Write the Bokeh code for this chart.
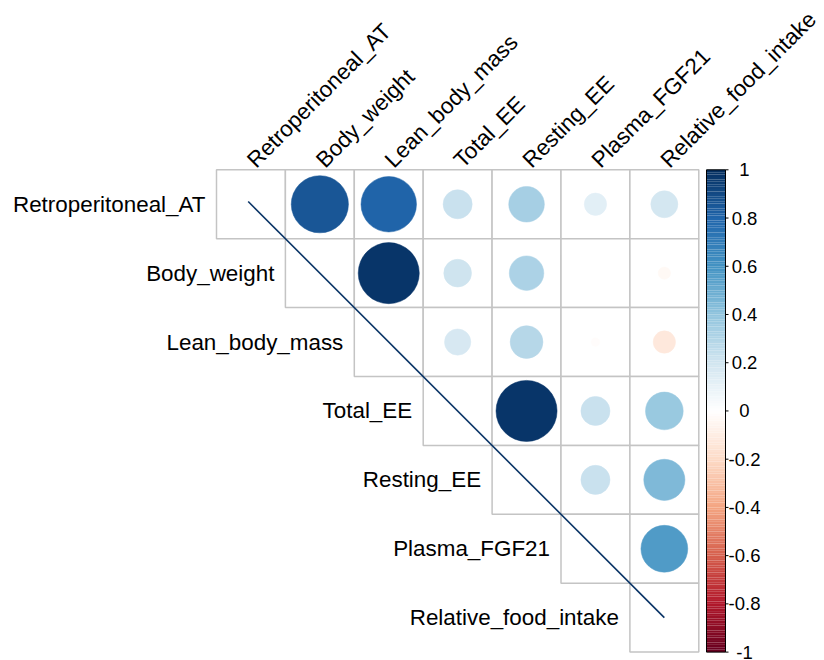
import numpy as np
from bokeh.plotting import figure
from bokeh.models import Range1d, ColumnDataSource, LinearColorMapper
from bokeh.transform import transform
from bokeh.core.properties import value
from bokeh.embed import file_html
from bokeh.resources import INLINE

# ---- data ----
variables = ["Retroperitoneal_AT", "Body_weight", "Lean_body_mass", "Total_EE",
             "Resting_EE", "Plasma_FGF21", "Relative_food_intake"]
# upper-triangle correlations, row by row (row i, columns i+1..7)
corr_rows = [
    [0.85, 0.80, 0.22, 0.33, 0.13, 0.19],
    [0.97, 0.20, 0.31, 0.00, -0.04],
    [0.18, 0.28, -0.02, -0.13],
    [0.97, 0.22, 0.37],
    [0.22, 0.44],
    [0.57],
]
cbar_ticks = [1, 0.8, 0.6, 0.4, 0.2, 0, -0.2, -0.4, -0.6, -0.8, -1]
cbar_labels = ["1", "0.8", "0.6", "0.4", "0.2", "0", "-0.2", "-0.4", "-0.6", "-0.8", "-1"]

# ---- palette (corrplot RdBu, 200 colours) ----
anchors = ["#67001F", "#B2182B", "#D6604D", "#F4A582", "#FDDBC7", "#FFFFFF",
           "#D1E5F0", "#92C5DE", "#4393C3", "#2166AC", "#053061"]
rgb = np.array([[int(h[i:i + 2], 16) for i in (1, 3, 5)] for h in anchors], float)
t = np.linspace(0, 1, len(anchors))
tt = np.linspace(0, 1, 200)
pal = []
for u in tt:
    c = [np.interp(u, t, rgb[:, k]) for k in range(3)]
    pal.append("#%02x%02x%02x" % tuple(int(round(v)) for v in c))
mapper = LinearColorMapper(palette=pal, low=-1, high=1)

# ---- layout ----
W, H = 824, 660
CELL = 68.9
L = 216.0
T = 169.3
FONT = value("Liberation Sans")

p = figure(width=W, height=H, output_backend="svg", toolbar_location=None,
           x_range=Range1d(0.5 - L / CELL, 0.5 + (W - L) / CELL),
           y_range=Range1d(0.5 + (H - T) / CELL, 0.5 - T / CELL),
           min_border=0)
p.axis.visible = False
p.grid.visible = False
p.outline_line_color = None
p.background_fill_color = "white"

n = len(variables)
# grid cells
cx, cy = [], []
for i in range(1, n + 1):
    for j in range(i, n + 1):
        cx.append(j)
        cy.append(i)
p.rect(x=cx, y=cy, width=1, height=1, fill_color="white",
       line_color="#C4C4C4", line_width=1.5)

# circles
xs, ys, rs, vs = [], [], [], []
for i, row in enumerate(corr_rows, start=1):
    for k, r in enumerate(row):
        j = i + 1 + k
        xs.append(j)
        ys.append(i)
        vs.append(r)
        rs.append(0.45 * np.sqrt(abs(r)))
src = ColumnDataSource(dict(x=xs, y=ys, r=rs, v=vs))
p.circle(x="x", y="y", radius="r", source=src,
         fill_color=transform("v", mapper), line_color=transform("v", mapper),
         line_width=0.5)

# diagonal line
p.line(x=[0.96, n], y=[0.96, n], line_color="#0A3466", line_width=1.6)

# row labels
p.text(x=[i - 0.5 - 0.16 for i in range(1, n + 1)], y=list(range(1, n + 1)),
       text=variables, text_align="right", text_baseline="middle",
       text_font=FONT, text_font_size="22.4px", text_color="black")
# column labels
p.text(x=list(range(1, n + 1)), y=[0.5 - 0.09] * n, text=variables,
       angle=np.pi / 4, text_align="left", text_baseline="alphabetic",
       text_font=FONT, text_font_size="22.4px", text_color="black")

# colour bar
cb_left = 7.5 + 7.7 / CELL
cb_right = 7.5 + 26.7 / CELL
def vy(v):
    return 4 - 3.5 * v
edges = np.linspace(-1, 1, len(pal) + 1)
p.quad(left=cb_left, right=cb_right,
       bottom=[vy(e) for e in edges[:-1]], top=[vy(e) for e in edges[1:]],
       fill_color=pal, line_color=None)
p.rect(x=(cb_left + cb_right) / 2, y=4, width=cb_right - cb_left, height=7,
       fill_color=None, line_color="black", line_width=1)
p.segment(x0=cb_right, x1=cb_right + 3.0 / CELL, y0=[vy(v) for v in cbar_ticks],
          y1=[vy(v) for v in cbar_ticks], line_color="black", line_width=1)
p.text(x=7.5 + 45.7 / CELL, y=[vy(v) for v in cbar_ticks], text=cbar_labels,
       text_align="center", text_baseline="middle", text_font=FONT,
       text_font_size="18.5px", text_color="black")

open("out.html", "w").write(file_html(p, INLINE))
